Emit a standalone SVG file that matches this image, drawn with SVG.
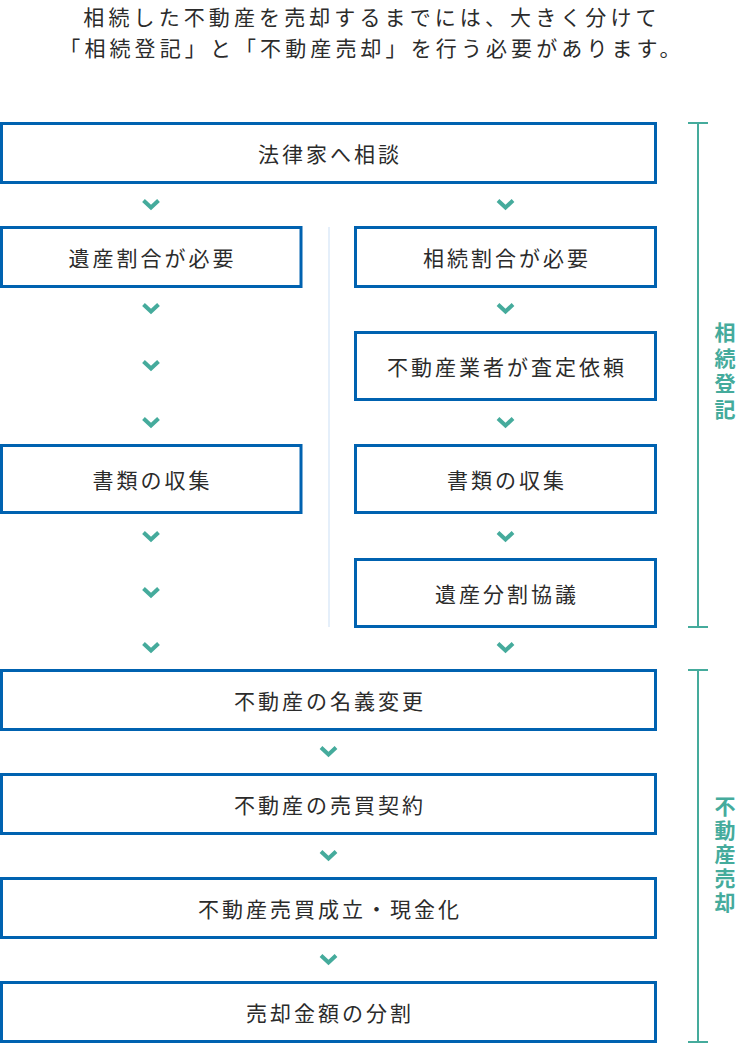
<svg xmlns="http://www.w3.org/2000/svg" width="740" height="1043" viewBox="0 0 740 1043">
<defs>
<style>
.box{fill:#fff;stroke:#0062b0;stroke-width:3}
.lbl{font-family:"Noto Sans CJK JP","Noto Sans",sans-serif;font-size:21px;fill:#2b2b2b;letter-spacing:3px;text-anchor:middle;dominant-baseline:central}
.title{font-family:"Noto Sans CJK JP","Noto Sans",sans-serif;font-size:21px;fill:#2b2b2b;letter-spacing:4.1px;text-anchor:middle}
.side{font-family:"Noto Sans CJK JP","Noto Sans",sans-serif;font-size:21px;font-weight:bold;fill:#45ab9c;writing-mode:vertical-rl}
.chev{fill:none;stroke:#45ab9c;stroke-width:4}
.br{stroke:#45ab9c;stroke-width:2;fill:none}
</style>
<path id="cv" class="chev" d="M-7.5,-3.5 L0,3.5 L7.5,-3.5"/>
</defs>
<rect width="740" height="1043" fill="#fff"/>
<g id="title">
<text class="title" x="372" y="25">相続した不動産を売却するまでには、大きく分けて</text>
<text class="title" x="372" y="56">「相続登記」と「不動産売却」を行う必要があります。</text>
</g>
<g id="connectors">
<line x1="329" y1="227" x2="329" y2="627" stroke="#e5effa" stroke-width="2"/>
<use href="#cv" x="151" y="204"/>
<use href="#cv" x="505.5" y="204"/>
<use href="#cv" x="151" y="308"/>
<use href="#cv" x="151" y="365"/>
<use href="#cv" x="151" y="422"/>
<use href="#cv" x="151" y="536"/>
<use href="#cv" x="151" y="592"/>
<use href="#cv" x="151" y="647"/>
<use href="#cv" x="505.5" y="308"/>
<use href="#cv" x="505.5" y="422"/>
<use href="#cv" x="505.5" y="536"/>
<use href="#cv" x="505.5" y="647"/>
<use href="#cv" x="328.5" y="751"/>
<use href="#cv" x="328.5" y="855"/>
<use href="#cv" x="328.5" y="959"/>
</g>
<g id="n1"><rect class="box" x="1.5" y="123.5" width="654" height="59"/><text class="lbl" x="330" y="153">法律家へ相談</text></g>
<g id="n2"><rect class="box" x="1.5" y="227.5" width="299.5" height="59"/><text class="lbl" x="152.5" y="257">遺産割合が必要</text></g>
<g id="n3"><rect class="box" x="355.5" y="227.5" width="300" height="59"/><text class="lbl" x="507" y="257">相続割合が必要</text></g>
<g id="n4"><rect class="box" x="355.5" y="332.5" width="300" height="67"/><text class="lbl" x="507" y="366">不動産業者が査定依頼</text></g>
<g id="n5"><rect class="box" x="1.5" y="445.5" width="299.5" height="67"/><text class="lbl" x="152.5" y="479">書類の収集</text></g>
<g id="n6"><rect class="box" x="355.5" y="445.5" width="300" height="67"/><text class="lbl" x="507" y="479">書類の収集</text></g>
<g id="n7"><rect class="box" x="355.5" y="559.5" width="300" height="67"/><text class="lbl" x="507" y="593">遺産分割協議</text></g>
<g id="n8"><rect class="box" x="1.5" y="670.5" width="654" height="59"/><text class="lbl" x="330" y="700">不動産の名義変更</text></g>
<g id="n9"><rect class="box" x="1.5" y="774.5" width="654" height="59"/><text class="lbl" x="330" y="804">不動産の売買契約</text></g>
<g id="n10"><rect class="box" x="1.5" y="878.5" width="654" height="59"/><text class="lbl" x="330" y="908">不動産売買成立・現金化</text></g>
<g id="n11"><rect class="box" x="1.5" y="982.5" width="654" height="59"/><text class="lbl" x="330" y="1012">売却金額の分割</text></g>
<g id="bracket1">
<path class="br" d="M688,123 H708 M698,123 V627 M688,627 H708"/>
<text class="side" x="725" y="322" style="letter-spacing:4.5px">相続登記</text>
</g>
<g id="bracket2">
<path class="br" d="M688,670 H708 M698,670 V1042 M688,1042 H708"/>
<text class="side" x="725" y="796" style="letter-spacing:3px">不動産売却</text>
</g>
</svg>
